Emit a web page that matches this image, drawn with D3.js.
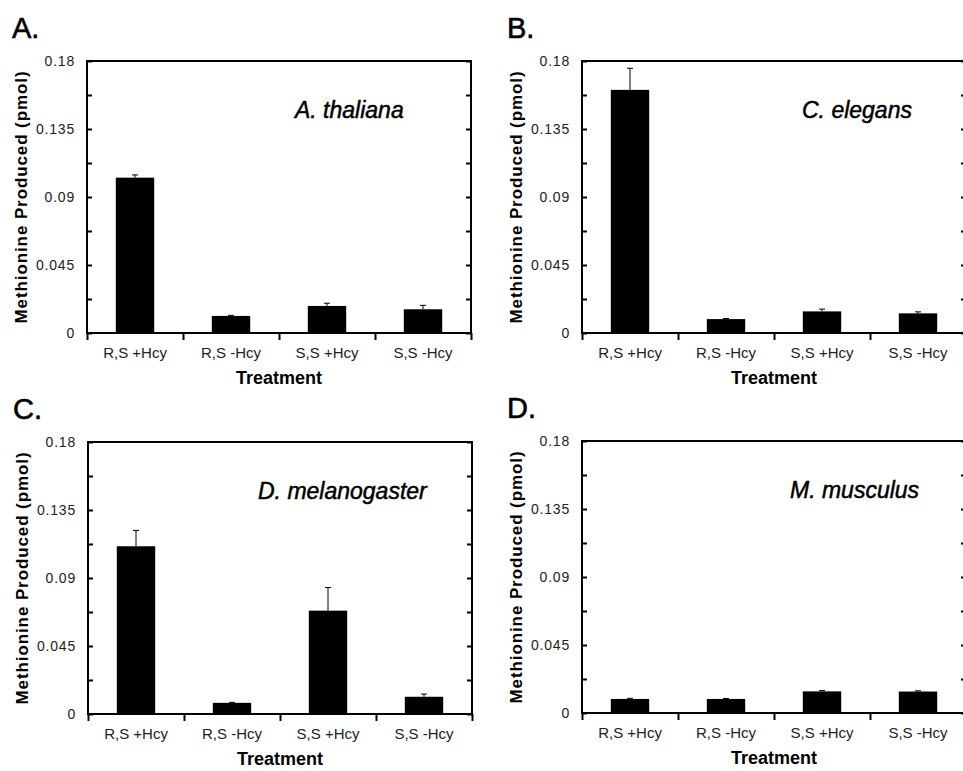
<!DOCTYPE html>
<html lang="en">
<head>
<meta charset="UTF-8">
<title>Methionine Produced</title>
<script src="https://d3js.org/d3.v7.min.js"></script>
<style>
    body { margin: 0; background: #fff; }
    svg { display: block; }
    text { font-family: "Liberation Sans", Arial, sans-serif; fill: #000; }
    .panel-letter { font-size: 29px; stroke: #000; stroke-width: 0.6px; }
    .species { font-size: 23px; font-style: italic; stroke: #000; stroke-width: 0.5px; }
    .ytick text { font-size: 14px; letter-spacing: 0.8px; fill: #222; }
    .xtick text { font-size: 15px; fill: #222; }
    .ytitle { font-size: 17px; font-weight: bold; letter-spacing: 0.9px; }
    .xtitle { font-size: 18px; font-weight: bold; }
    .domain { display: none; }
</style>
</head>
<body>
<svg width="963" height="771"></svg>
<script>
    // data
    const treatments = ["R,S +Hcy", "R,S -Hcy", "S,S +Hcy", "S,S -Hcy"];
    const panelLetters = ["A.", "B.", "C.", "D."];
    const species = ["A. thaliana", "C. elegans", "D. melanogaster", "M. musculus"];

    const meanA = [0.1028, 0.0113, 0.0179, 0.0157];
    const errA  = [0.0018, 0.0004, 0.0018, 0.0026];
    const meanB = [0.1609, 0.0092, 0.0143, 0.0130];
    const errB  = [0.0143, 0.0004, 0.0015, 0.0010];
    const meanC = [0.1110, 0.0074, 0.0684, 0.0114];
    const errC  = [0.0105, 0.0003, 0.0153, 0.0018];
    const meanD = [0.0093, 0.0093, 0.0143, 0.0142];
    const errD  = [0.0004, 0.0003, 0.0005, 0.0005];

    const yTicks = [0, 0.045, 0.09, 0.135, 0.18];
    const yMinorTicks = [0, 0.0225, 0.045, 0.0675, 0.09, 0.1125, 0.135, 0.1575, 0.18];

    const means = [meanA, meanB, meanC, meanD];
    const errs = [errA, errB, errC, errD];

    // layout of the four panels
    const W = 384, H = 272;
    const layout = [
        { left: 87,  top: 61,  speciesX: 208 },
        { left: 582, top: 61,  speciesX: 220 },
        { left: 88,  top: 442, speciesX: 170 },
        { left: 582, top: 441, speciesX: 208 }
    ];

    const svg = d3.select("svg");

    const y = d3.scaleLinear().domain([0, 0.18]).range([H, 0]);
    const x = d3.scaleBand().domain(treatments).range([0, W])
        .paddingInner(0.6).paddingOuter(0.3);
    const xEdge = d3.scaleLinear().domain([0, treatments.length]).range([0, W]);

    layout.forEach((p, i) => {
        const g = svg.append("g").attr("transform", `translate(${p.left},${p.top})`);

        // panel letter
        svg.append("text")
            .attr("class", "panel-letter")
            .attr("x", p.left - 75)
            .attr("y", p.top - 23)
            .text(panelLetters[i]);

        // bars
        const rows = treatments.map((t, k) => ({ t, v: means[i][k], e: errs[i][k] }));
        g.selectAll("rect.bar")
            .data(rows)
            .enter().append("rect")
            .attr("class", "bar")
            .attr("x", d => x(d.t))
            .attr("width", x.bandwidth())
            .attr("y", d => y(d.v))
            .attr("height", d => H - y(d.v))
            .attr("fill", "#000");

        // error bars (upper only)
        const eb = g.selectAll("g.err").data(rows).enter().append("g").attr("class", "err");
        eb.append("line")
            .attr("x1", d => x(d.t) + x.bandwidth() / 2)
            .attr("x2", d => x(d.t) + x.bandwidth() / 2)
            .attr("y1", d => y(d.v))
            .attr("y2", d => y(d.v + d.e))
            .attr("stroke", "#000").attr("stroke-width", 1);
        eb.append("line")
            .attr("x1", d => x(d.t) + x.bandwidth() / 2 - 3)
            .attr("x2", d => x(d.t) + x.bandwidth() / 2 + 3)
            .attr("y1", d => y(d.v + d.e))
            .attr("y2", d => y(d.v + d.e))
            .attr("stroke", "#000").attr("stroke-width", 1);

        // frame
        g.append("rect")
            .attr("width", W).attr("height", H)
            .attr("fill", "none").attr("stroke", "#000").attr("stroke-width", 2);

        // y labels
        g.append("g").attr("class", "ytick")
            .call(d3.axisLeft(y).tickValues(yTicks).tickSize(0).tickPadding(12).tickFormat(d => String(d)));

        // inward ticks, left and right
        g.append("g")
            .call(d3.axisRight(y).tickValues(yMinorTicks).tickSize(5).tickFormat(""))
            .selectAll("line").attr("stroke-width", 2);
        g.append("g").attr("transform", `translate(${W},0)`)
            .call(d3.axisLeft(y).tickValues(yMinorTicks).tickSize(5).tickFormat(""))
            .selectAll("line").attr("stroke-width", 2);

        // bottom ticks at category edges
        g.append("g").attr("transform", `translate(0,${H})`)
            .call(d3.axisBottom(xEdge).tickValues(d3.range(treatments.length + 1)).tickSize(7).tickFormat(""))
            .selectAll("line").attr("stroke-width", 2);

        // x labels
        g.append("g").attr("class", "xtick").attr("transform", `translate(0,${H})`)
            .call(d3.axisBottom(x).tickSize(0).tickPadding(14));

        // axis titles
        g.append("text")
            .attr("class", "ytitle")
            .attr("transform", `translate(-60,${H / 2}) rotate(-90)`)
            .attr("text-anchor", "middle")
            .text("Methionine Produced (pmol)");
        g.append("text")
            .attr("class", "xtitle")
            .attr("x", W / 2).attr("y", H + 51)
            .attr("text-anchor", "middle")
            .text("Treatment");

        // species name
        g.append("text")
            .attr("class", "species")
            .attr("x", p.speciesX).attr("y", 57)
            .text(species[i]);
    });
</script>
</body>
</html>
